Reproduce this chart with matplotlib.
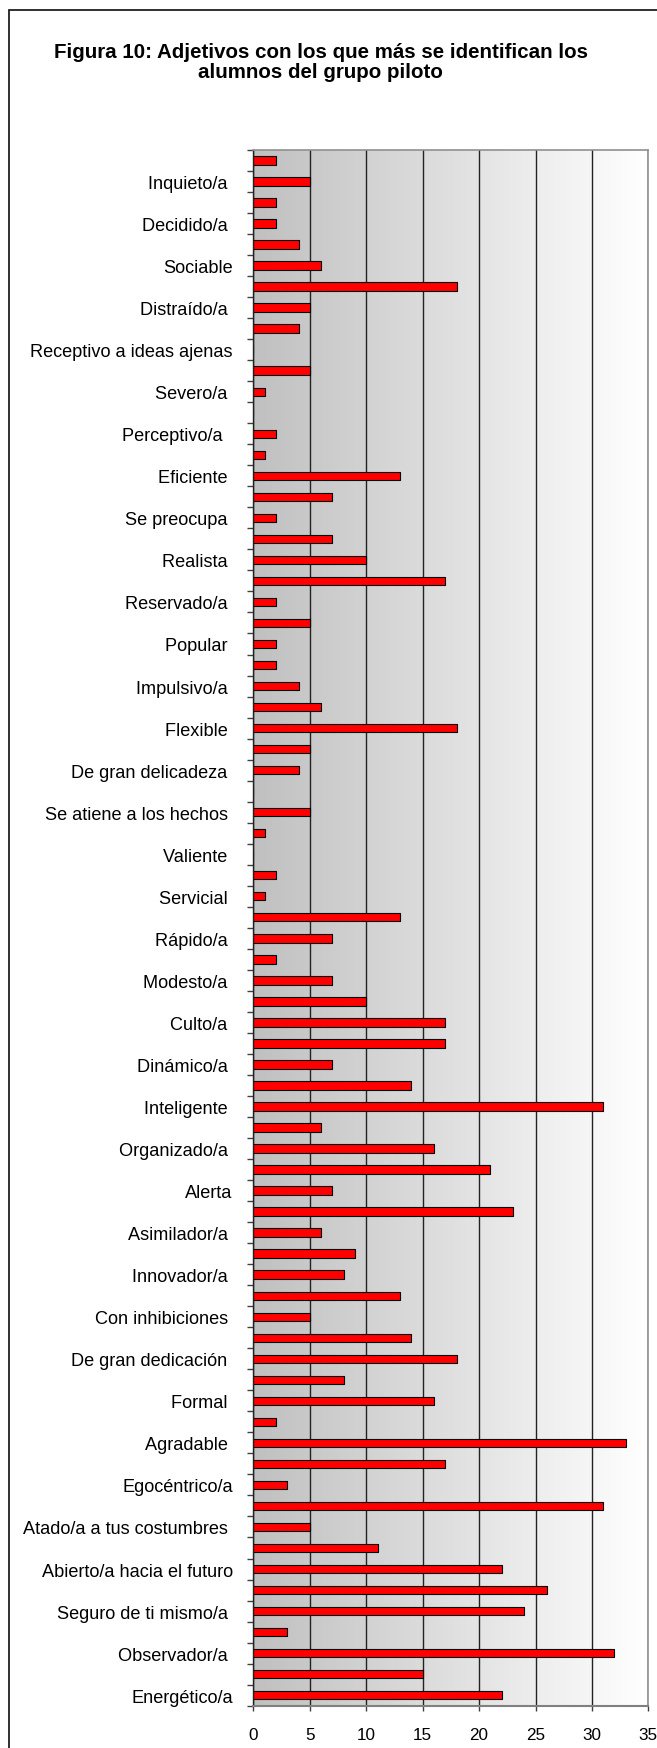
import numpy as np
import matplotlib
matplotlib.use('Agg')
import matplotlib.pyplot as plt
from matplotlib.colors import LinearSegmentedColormap
from matplotlib.patches import Rectangle

plt.rcParams['font.family'] = ['Liberation Sans', 'DejaVu Sans']

# adjetivos rotulados (de arriba a abajo), solo uno de cada dos lleva nombre
labels = ['Inquieto/a ', 'Decidido/a ', 'Sociable', 'Distraído/a ',
          'Receptivo a ideas ajenas', 'Severo/a ', 'Perceptivo/a  ', 'Eficiente ',
          'Se preocupa ', 'Realista ', 'Reservado/a ', 'Popular ', 'Impulsivo/a ',
          'Flexible ', 'De gran delicadeza ', 'Se atiene a los hechos ', 'Valiente ',
          'Servicial ', 'Rápido/a ', 'Modesto/a ', 'Culto/a ', 'Dinámico/a ',
          'Inteligente ', 'Organizado/a ', 'Alerta', 'Asimilador/a ', 'Innovador/a ',
          'Con inhibiciones ', 'De gran dedicación ', 'Formal ', 'Agradable ',
          'Egocéntrico/a', 'Atado/a a tus costumbres ', 'Abierto/a hacia el futuro',
          'Seguro de ti mismo/a ', 'Observador/a ', 'Energético/a']

# número de alumnos por adjetivo (de arriba a abajo)
values = [2, 5, 2, 2, 4, 6, 18,
          5, 4, 0, 5, 1, 0, 2,
          1, 13, 7, 2, 7, 10, 17,
          2, 5, 2, 2, 4, 6, 18,
          5, 4, 0, 5, 1, 0, 2,
          1, 13, 7, 2, 7, 10, 17,
          17, 7, 14, 31, 6, 16, 21,
          7, 23, 6, 9, 8, 13, 5,
          14, 18, 8, 16, 2, 33, 17,
          3, 31, 5, 11, 22, 26, 24,
          3, 32, 15, 22]

x_ticks = [0, 5, 10, 15, 20, 25, 30, 35]

n = len(values)
y = np.arange(n)[::-1]

fig = plt.figure(figsize=(6.57, 17.49), dpi=100)
ax = fig.add_axes([0.3858, 0.0242, 0.6010, 0.8895])

# fondo degradado gris -> blanco
cmap = LinearSegmentedColormap.from_list('fondo', ['#c0c0c0', '#ffffff'])
grad = np.linspace(0, 1, 256).reshape(1, -1)
ax.imshow(grad, cmap=cmap, aspect='auto', extent=[0, 35, -0.5, n - 0.5],
          zorder=0, interpolation='bilinear')

ax.barh(y, values, height=0.4, color='#ff0000', edgecolor='#000000',
        linewidth=0.8, zorder=2)

ax.set_xlim(0, 35)
ax.set_ylim(-0.5, n - 0.5)
ax.set_xticks(x_ticks)
ax.set_xticklabels([str(t) for t in x_ticks], fontsize=12.3)
ax.tick_params(axis='x', direction='out', length=3.6, width=1,
               color='#404040', pad=12)

# etiquetas en una categoría de cada dos, marcas entre categorías
ax.set_yticks(y[1::2])
ax.set_yticklabels(labels, fontsize=13.1)
ax.set_yticks(np.arange(-0.5, n, 1.0), minor=True)
ax.tick_params(axis='y', which='major', length=0, pad=15)
ax.tick_params(axis='y', which='minor', direction='out', length=4.3,
               width=1, color='#404040')

ax.xaxis.grid(True, color='#222222', linewidth=1.0, zorder=1)
ax.set_axisbelow(True)

ax.spines['left'].set_color('#202020')
ax.spines['left'].set_linewidth(1.0)
ax.spines['bottom'].set_color('#808080')
ax.spines['bottom'].set_linewidth(1.5)
for s in ['top', 'right']:
    ax.spines[s].set_color('#909090')
    ax.spines[s].set_linewidth(1.2)

fig.suptitle('Figura 10: Adjetivos con los que más se identifican los\nalumnos del grupo piloto',
             x=0.488, y=0.9755, fontsize=14.8, fontweight='bold', linespacing=1.1,
             va='top')

# marco del área del gráfico
fig.patches.append(Rectangle((0.0137, -0.1), 1.2, 1.0937, transform=fig.transFigure,
                             fill=False, edgecolor='#202020', linewidth=1.3))

plt.savefig('out.png', dpi=100)
